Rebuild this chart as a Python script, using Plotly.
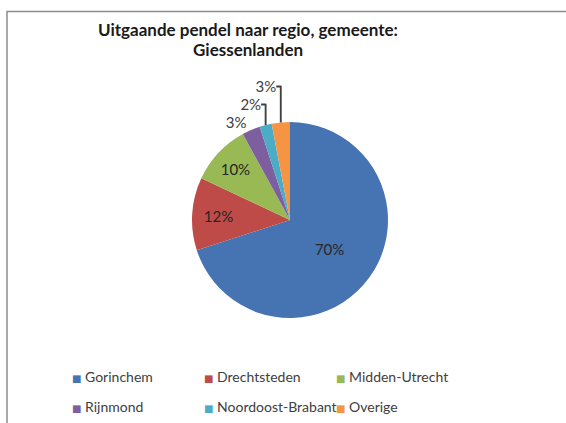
import plotly.graph_objects as go

title_lines = ["Uitgaande pendel naar regio, gemeente:", "Giessenlanden"]
regions = ["Gorinchem", "Drechtsteden", "Midden-Utrecht", "Rijnmond", "Noordoost-Brabant", "Overige"]
shares = [70, 12, 10, 3, 2, 3]
colors = ["#4673B1", "#BE4B48", "#98B954", "#7D5FA0", "#4AACC6", "#F59443"]
text_pos = ["inside", "inside", "inside", "outside", "outside", "outside"]

W, H = 566, 423
cx, cy, r = 290, 220, 98

fig = go.Figure()
fig.add_trace(go.Pie(
    labels=regions, values=shares, sort=False, direction="clockwise", rotation=0,
    marker=dict(colors=colors, line=dict(width=0)),
    textinfo="percent", textposition=text_pos,
    insidetextorientation="horizontal",
    insidetextfont=dict(size=15, color="#262626"),
    outsidetextfont=dict(size=15, color="#404040"),
    showlegend=False, hoverinfo="label+percent",
    automargin=False,
    domain=dict(x=[(cx - r) / W, (cx + r) / W], y=[1 - (cy + r) / H, 1 - (cy - r) / H]),
))

# legend entries (two rows), coloured square drawn as part of the entry text
for i, (name, col) in enumerate(zip(regions, colors)):
    fig.add_trace(go.Scatter(
        x=[None], y=[None], mode="markers",
        name=f"<span style='color:{col};font-size:10px;font-family:DejaVu Sans'>■</span> {name}",
        marker=dict(symbol="square", size=1, color="rgba(0,0,0,0)"),
        legend="legend" if i < 3 else "legend2",
    ))
# empty spacer entries so the last column of each legend row is not clipped
for lg in ["legend", "legend2"]:
    fig.add_trace(go.Scatter(
        x=[None], y=[None], mode="markers", name=" ",
        marker=dict(size=1, color="rgba(0,0,0,0)"), legend=lg,
    ))

legend_common = dict(
    orientation="h", xanchor="left", yanchor="middle",
    font=dict(family="Lato, Open Sans, sans-serif", size=14, color="#404040"),
    entrywidth=87, entrywidthmode="pixels", bgcolor="rgba(0,0,0,0)",
    itemclick=False, itemdoubleclick=False,
)

annotations = [
    dict(text=line, x=248 / W, y=1 - ypx / H, xref="paper", yref="paper",
         xanchor="center", yanchor="middle", showarrow=False,
         font=dict(family="Lato, Open Sans, sans-serif", size=17, color="#1a1a1a", weight="bold"))
    for line, ypx in zip(title_lines, [30, 49])
]

fig.update_layout(
    width=W, height=H,
    margin=dict(l=0, r=0, t=0, b=0, autoexpand=False),
    paper_bgcolor="white", plot_bgcolor="white",
    font=dict(family="Lato, Open Sans, sans-serif"),
    hovermode=False,
    xaxis=dict(visible=False), yaxis=dict(visible=False),
    legend=dict(x=32 / W, y=1 - 377 / H, **legend_common),
    legend2=dict(x=32 / W, y=1 - 407 / H, **legend_common),
    annotations=annotations,
    shapes=[dict(type="rect", xref="paper", yref="paper",
                 x0=7 / W, x1=1.02, y0=-0.02, y1=1 - 11.5 / H,
                 line=dict(color="#8c8c8c", width=1.5), fillcolor="rgba(0,0,0,0)", layer="below")],
)

fig.write_html("out.html", config={"staticPlot": True, "displayModeBar": False},
               post_script="document.body.style.margin='0px';")
